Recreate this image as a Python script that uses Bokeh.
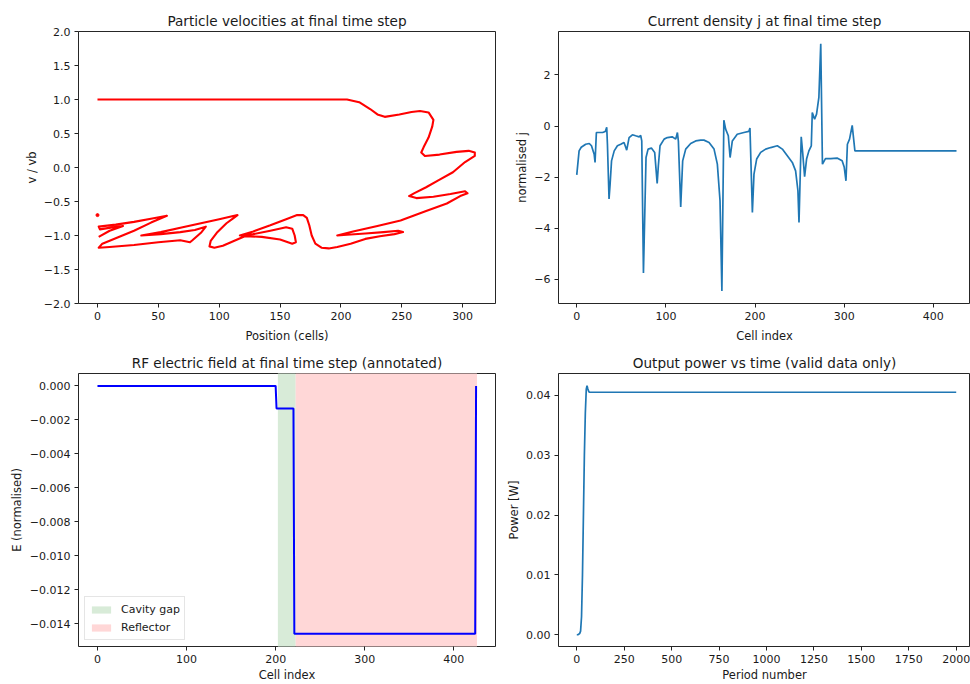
from bokeh.plotting import figure
from bokeh.models import Range1d, FixedTicker, CustomJSTickFormatter, Legend, LegendItem
from bokeh.layouts import column, row
from bokeh.embed import file_html
from bokeh.resources import INLINE

FONT = "DejaVu Sans"
TXT = "#1a1a1a"

# ---------------- data ----------------
# Panel 1: particle phase space (position in cells, v / vb), traced along the particle sheet
vel_x = [0, 205, 215, 224, 230, 236, 248, 258, 265, 272, 276, 275, 272, 268, 266, 269, 281, 295, 305, 310,
         310, 302, 292, 280, 270, 260, 256, 262, 276, 290, 302, 304, 298, 287, 270, 249, 230, 210, 197, 205,
         220, 235, 247, 251, 244, 232, 220, 208, 197, 190, 184, 179, 176, 174, 172, 169, 164, 155, 142, 128,
         117, 128, 142, 155, 160, 162, 163, 160, 150, 135, 121, 112, 103, 96, 92, 93, 98, 106, 112, 115,
         100, 85, 70, 52, 36, 52, 68, 80, 89, 85, 78, 76, 68, 50, 30, 10, 1, 4, 15, 30,
         44, 57, 45, 30, 15, 1, 2, 12, 21, 10, 1]
vel_v = [1.0, 1.0, 0.96, 0.86, 0.78, 0.745, 0.78, 0.815, 0.83, 0.81, 0.70, 0.60, 0.44, 0.30, 0.22, 0.17, 0.19, 0.23, 0.245, 0.22,
         0.17, 0.08, -0.07, -0.19, -0.29, -0.38, -0.42, -0.45, -0.43, -0.39, -0.35, -0.38, -0.42, -0.53, -0.64, -0.78, -0.86, -0.94, -1.0, -0.99,
         -0.97, -0.95, -0.93, -0.95, -0.98, -1.01, -1.05, -1.12, -1.17, -1.19, -1.18, -1.12, -1.0, -0.85, -0.74, -0.70, -0.70, -0.76, -0.85, -0.94,
         -1.0, -0.98, -0.93, -0.88, -0.90, -1.0, -1.1, -1.12, -1.06, -1.02, -1.01, -1.08, -1.15, -1.18, -1.16, -1.08, -0.96, -0.82, -0.74, -0.70,
         -0.76, -0.82, -0.88, -0.95, -1.0, -0.98, -0.95, -0.92, -0.87, -0.96, -1.07, -1.10, -1.07, -1.10, -1.14, -1.17, -1.18, -1.12, -1.04, -0.93,
         -0.81, -0.71, -0.75, -0.80, -0.84, -0.87, -0.91, -0.88, -0.86, -0.93, -1.02]
stray_x = [0]
stray_v = [-0.70]

# Panel 2: current density
j_x = [0, 2.6, 5, 10, 14, 16.5, 19.5, 20.5, 22, 25, 29, 32, 33.6, 34.4, 36.2, 37.4, 39, 42, 45.6, 49.3,
       53, 55, 56, 58.7, 62.4, 66, 70, 71.7, 72.9, 74.8, 77.7, 80, 83.7, 87.4, 90.2, 91.5, 93.4, 98, 101.6, 107,
       111, 112.9, 114, 116.6, 118.8, 122.2, 127.8, 133.4, 139, 142.7, 148.4, 154, 157.7, 160.7, 162.8, 165, 167, 170, 172, 174.5,
       180, 187.5, 193, 194.3, 197, 198.8, 201.8, 206.3, 211.9, 217.5, 225, 230.6, 236.2, 241.8, 245.5, 248.1, 249.3, 251.8, 253.4, 255.6,
       257.8, 260.4, 263.1, 264.2, 266.8, 269, 271.6, 273.7, 275.6, 279, 285, 292, 297.7, 300, 302, 303.6, 306, 309, 312, 426]
j_val = [-1.91, -0.97, -0.83, -0.71, -0.68, -0.77, -1.10, -1.42, -0.25, -0.25, -0.25, -0.21, -0.05, -0.71, -2.85, -2.27, -1.36, -0.97, -0.77, -0.71,
         -0.64, -0.84, -0.94, -0.45, -0.34, -0.38, -0.42, -0.36, -0.58, -5.75, -1.23, -0.90, -0.86, -1.03, -2.24, -1.56, -0.77, -0.51, -0.45, -0.42,
         -0.51, -0.25, -0.6, -3.16, -1.36, -0.90, -0.68, -0.58, -0.55, -0.55, -0.64, -0.90, -1.49, -2.92, -6.45, 0.23, -0.12, -0.38, -1.23, -0.58,
         -0.32, -0.25, -0.21, -0.08, -3.38, -1.88, -1.29, -1.03, -0.90, -0.84, -0.77, -0.90, -1.16, -1.42, -1.75, -2.53, -3.77, -0.42, -1.03, -1.98,
         -1.29, -0.97, -0.77, 0.53, 0.27, 0.47, 1.12, 3.22, -1.49, -1.27, -1.27, -1.25, -1.36, -1.6, -2.14, -0.71, -0.51, 0.03, -0.97, -0.97]

# Panel 3: RF electric field
e_x = [0, 200, 201, 220, 221, 424, 425]
e_val = [0.0, 0.0, -0.00133, -0.00133, -0.01458, -0.01458, 0.0]
gap_start, gap_end = 202.5, 222.5
refl_start, refl_end = 222.5, 426

# Panel 4: output power
p_x = [0, 5, 10, 15, 20, 25, 30, 35, 40, 45, 50, 54, 58, 62, 66, 80, 2000]
p_val = [0.0000, 0.0000, 0.0001, 0.0002, 0.0006, 0.003, 0.010, 0.020, 0.030, 0.037, 0.0410, 0.0416, 0.0411, 0.0407, 0.0405, 0.0405, 0.0405]

# ticks
p1_xt = [0, 50, 100, 150, 200, 250, 300]
p1_yt = [-2.0, -1.5, -1.0, -0.5, 0.0, 0.5, 1.0, 1.5, 2.0]
p2_xt = [0, 100, 200, 300, 400]
p2_yt = [-6, -4, -2, 0, 2]
p3_xt = [0, 100, 200, 300, 400]
p3_yt = [0.0, -0.002, -0.004, -0.006, -0.008, -0.010, -0.012, -0.014]
p4_xt = [0, 250, 500, 750, 1000, 1250, 1500, 1750, 2000]
p4_yt = [0.0, 0.01, 0.02, 0.03, 0.04]

E_YLIM = (-0.01533, 0.00073)


def fmt(dec):
    return CustomJSTickFormatter(code="return tick.toFixed(%d).replace('-', '\u2212');" % dec)


def make(title, w, h, xr, yr, bl, br, bt, bb):
    p = figure(width=w, height=h, x_range=Range1d(*xr), y_range=Range1d(*yr),
               output_backend="svg", toolbar_location=None,
               min_border_left=bl, min_border_right=br, min_border_top=bt, min_border_bottom=bb,
               title=title)
    p.title.text_font = FONT
    p.title.text_font_size = "13.6px"
    p.title.text_font_style = "normal"
    p.title.text_color = TXT
    p.title.align = "center"
    p.title.standoff = 6
    p.xgrid.visible = False
    p.ygrid.visible = False
    p.outline_line_color = "black"
    p.outline_line_width = 1
    p.outline_line_alpha = 0.85
    p.background_fill_color = "white"
    p.border_fill_color = "white"
    return p


def style(p, xt, yt, xl, yl, xdec, ydec, ylab_so, xlab_so):
    for ax in (p.xaxis[0], p.yaxis[0]):
        ax.axis_line_color = None
        ax.major_tick_in = 0
        ax.major_tick_out = 4
        ax.major_tick_line_color = "#222222"
        ax.minor_tick_line_color = None
        ax.major_label_text_font = FONT
        ax.major_label_text_font_size = "11px"
        ax.major_label_text_color = TXT
        ax.major_label_standoff = 4
        ax.axis_label_text_font = FONT
        ax.axis_label_text_font_size = "11.5px"
        ax.axis_label_text_font_style = "normal"
        ax.axis_label_text_color = TXT
    p.xaxis.ticker = FixedTicker(ticks=xt)
    p.yaxis.ticker = FixedTicker(ticks=yt)
    p.xaxis.formatter = fmt(xdec)
    p.yaxis.formatter = fmt(ydec)
    p.xaxis.axis_label = xl
    p.yaxis.axis_label = yl
    p.yaxis.axis_label_standoff = ylab_so
    p.xaxis.axis_label_standoff = xlab_so


# ---------------- panel 1 ----------------
p1 = make("Particle velocities at final time step", 506, 345, (-15.6, 327), (-2, 2), 78, 11, 31, 42)
style(p1, p1_xt, p1_yt, "Position (cells)", "v / vb", 0, 1, 2, 6)
p1.line(vel_x, vel_v, line_color="red", line_width=2.1, line_join="round")
p1.scatter(stray_x, stray_v, size=3, color="red")

# ---------------- panel 2 ----------------
p2 = make("Current density j at final time step", 464, 345, (-20.5, 441.7), (-6.94, 3.70), 52, 0, 31, 42)
style(p2, p2_xt, p2_yt, "Cell index", "normalised j", 0, 0, 2, 6)
p2.line(j_x, j_val, line_color="#1f77b4", line_width=1.7)

# ---------------- panel 3 ----------------
p3 = make("RF electric field at final time step (annotated)", 498, 339, (-21.3, 446.8), E_YLIM, 78, 3, 28, 38)
style(p3, p3_xt, p3_yt, "Cell index", "E (normalised)", 0, 3, 3, 2)
GREEN = "#d8ebd8"
RED = "#ffd7d7"
r_gap = p3.quad(left=[gap_start], right=[gap_end], bottom=[E_YLIM[0] * 2], top=[E_YLIM[1] * 2],
                fill_color=GREEN, line_color=None)
r_ref = p3.quad(left=[refl_start], right=[refl_end], bottom=[E_YLIM[0] * 2], top=[E_YLIM[1] * 2],
                fill_color=RED, line_color=None)
p3.line(e_x, e_val, line_color="blue", line_width=2)
leg = Legend(items=[LegendItem(label="Cavity gap", renderers=[r_gap]),
                    LegendItem(label="Reflector", renderers=[r_ref])],
             location="bottom_left")
leg.label_text_font = FONT
leg.label_text_font_size = "11px"
leg.label_text_color = TXT
leg.glyph_width = 24
leg.glyph_height = 9
leg.label_height = 16
leg.label_standoff = 8
leg.spacing = 2
leg.padding = 4
leg.margin = 6
leg.border_line_color = "#cccccc"
leg.border_line_width = 1
leg.background_fill_color = "white"
leg.background_fill_alpha = 0.8
p3.add_layout(leg)

# ---------------- panel 4 ----------------
p4 = make("Output power vs time (valid data only)", 472, 339, (-96.4, 2075.3), (-0.00196, 0.04363), 60, 0, 28, 38)
style(p4, p4_xt, p4_yt, "Period number", "Power [W]", 0, 2, 2, 2)
p4.line(p_x, p_val, line_color="#1f77b4", line_width=1.7)

layout = column(row(p1, p2), row(p3, p4))
open("out.html", "w").write(file_html(layout, INLINE))
